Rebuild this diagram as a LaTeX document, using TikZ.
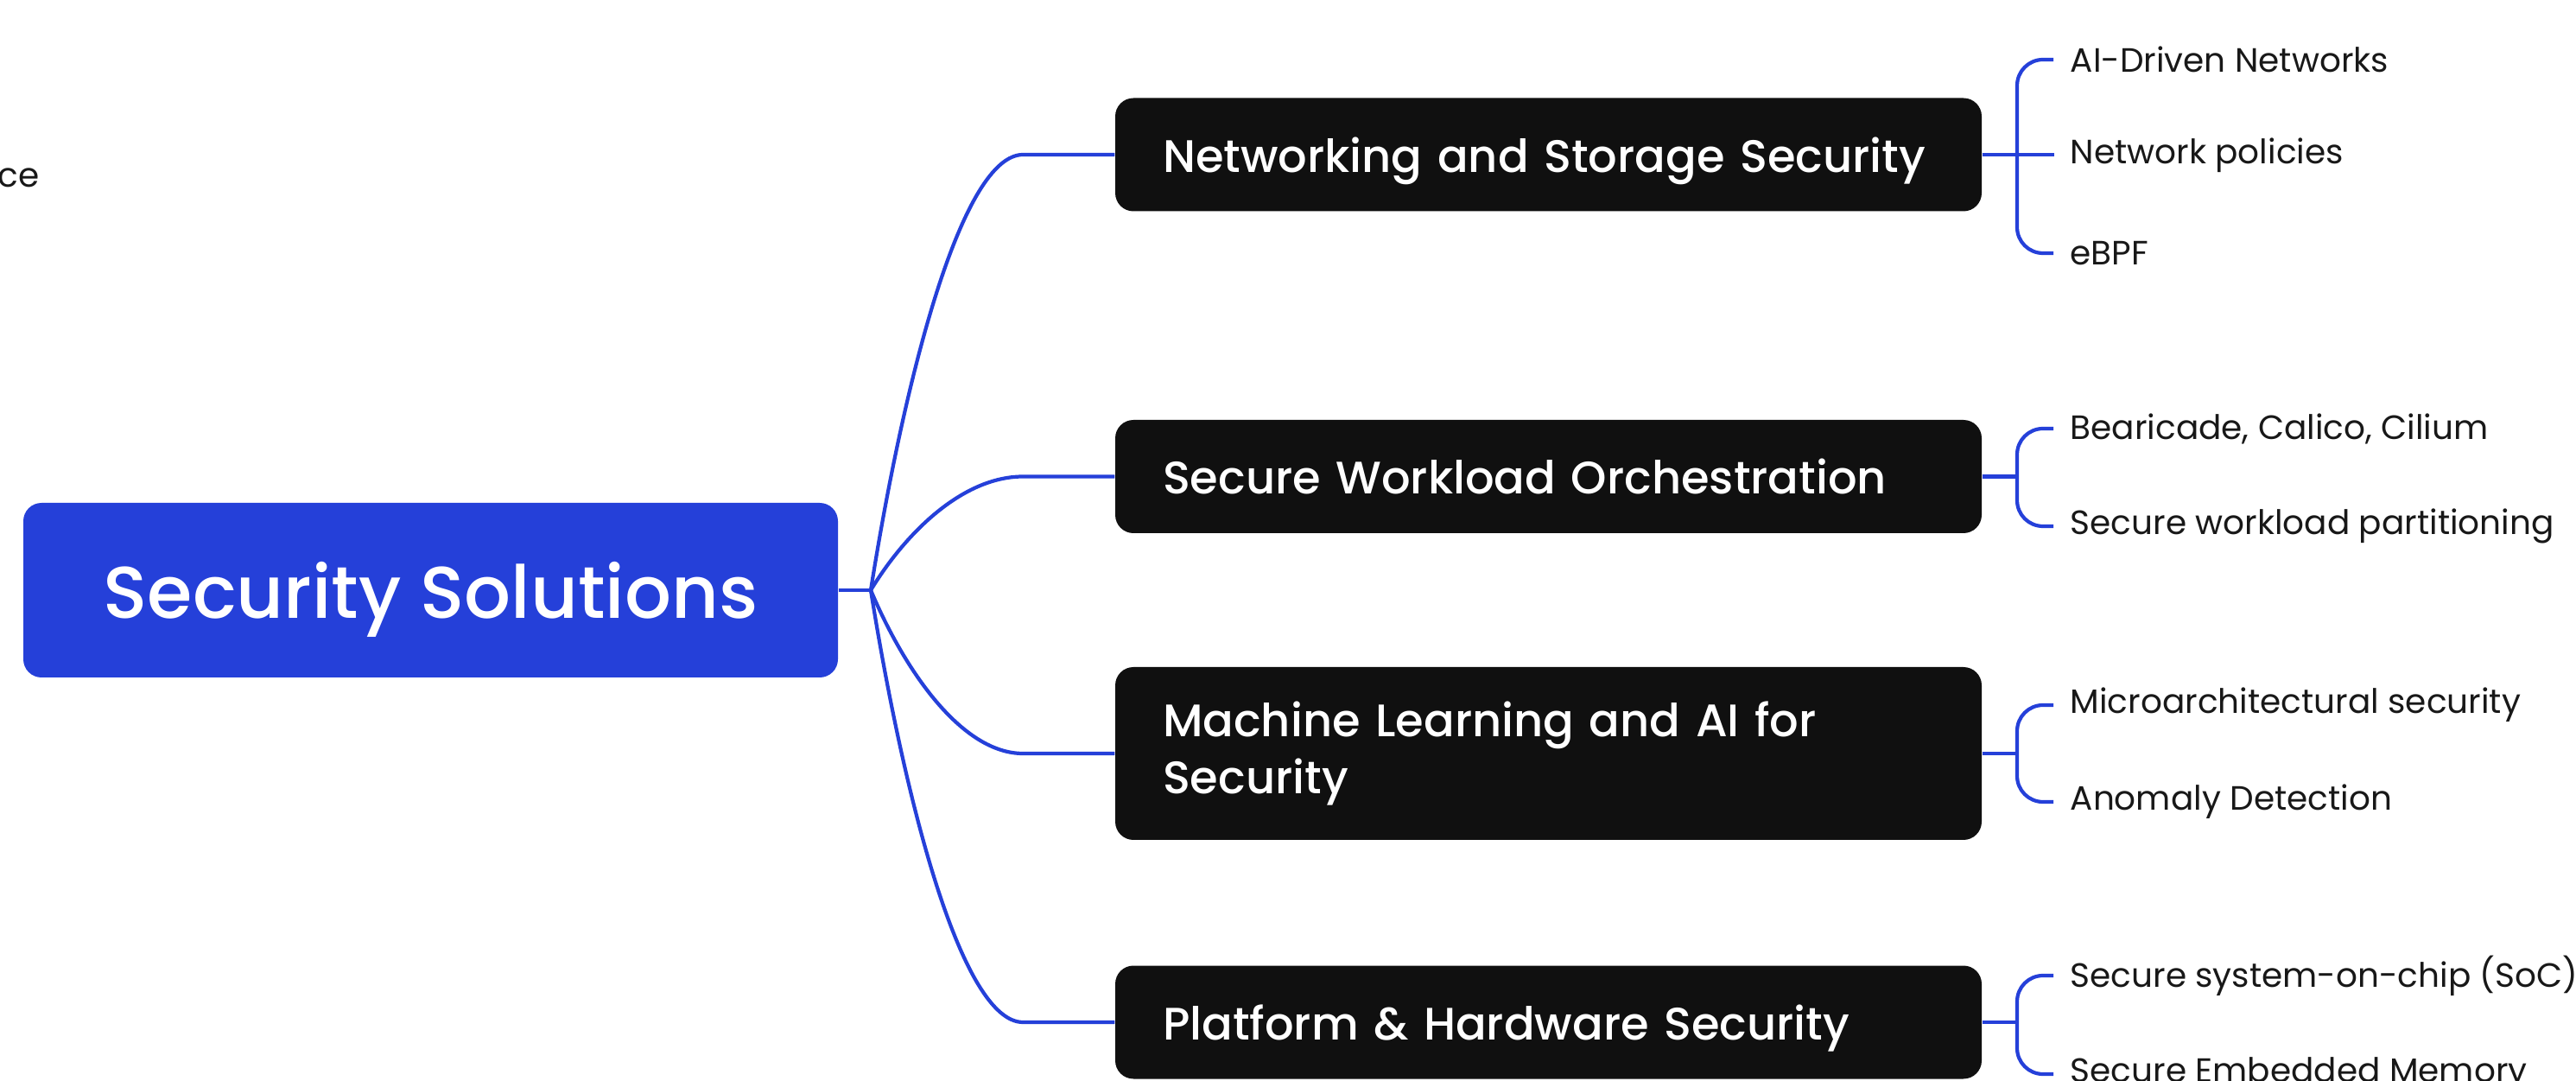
\documentclass[tikz,border=0pt]{standalone}
\usepackage{fontspec}
\setmainfont{Poppins}
\newfontfamily\topicfont{Poppins Medium}
\usetikzlibrary{positioning,calc}
\usepackage{xcolor}
\definecolor{mapblue}{RGB}{37,64,217}
\definecolor{topicblack}{RGB}{16,16,16}
\definecolor{leafgray}{RGB}{24,24,24}

\begin{document}
\begin{tikzpicture}[
    rootbox/.style={rectangle, rounded corners=6pt, fill=mapblue, text=white,
                    minimum width=9.43cm, minimum height=2.02cm, align=center,
                    text depth=0pt, font=\topicfont\fontsize{24.1}{28}\selectfont},
    topicbox/.style={rectangle, rounded corners=6pt, fill=topicblack, text=white,
                     text width=8.93cm, inner xsep=0.55cm, minimum height=1.31cm,
                     align=left, text depth=0pt, font=\topicfont\fontsize{15}{19}\selectfont},
    leaf/.style={inner sep=0pt, anchor=west, text=leafgray,
                 font=\fontsize{11.1}{13}\selectfont},
    branch/.style={draw=mapblue, line width=1.2pt},
    bracket/.style={branch, rounded corners=0.3cm}
]
\useasboundingbox (0,0) rectangle (29.82,-12.51);

% central topic and the fork point
\node[rootbox] (root) at (4.985,-6.83) {Security Solutions};
\coordinate (fork) at (10.08,-6.83);
\draw[branch] (root.east) -- (fork);

% main topics
\node[topicbox] (net) at (17.925,-1.79) {Networking and Storage Security};
\node[topicbox] (orch) at (17.925,-5.515) {Secure Workload Orchestration};
\node[topicbox, text depth=, minimum height=2.0cm] (ml) at (17.925,-8.72) {Machine Learning and AI for\\Security};
\node[topicbox] (hw) at (17.925,-11.83) {Platform \& Hardware Security};

% curved branches out of the fork
\draw[branch] (fork) .. controls +(0.4,2.52) and +(-0.7,0) .. ($(net.west)+(-1.06,0)$) -- (net.west);
\draw[branch] (fork) .. controls +(0.4,0.66) and +(-0.7,0) .. ($(orch.west)+(-1.06,0)$) -- (orch.west);
\draw[branch] (fork) .. controls +(0.4,-0.95) and +(-0.7,0) .. ($(ml.west)+(-1.06,0)$) -- (ml.west);
\draw[branch] (fork) .. controls +(0.4,-2.5) and +(-0.7,0) .. ($(hw.west)+(-1.06,0)$) -- (hw.west);

% subtopics
\node[leaf] (net1) at (23.96,-0.69) {AI-Driven Networks};
\node[leaf] (net2) at (23.96,-1.80) {Network policies};
\node[leaf] (net3) at (23.96,-2.93) {eBPF};
\node[leaf] (orch1) at (23.96,-4.96) {Bearicade, Calico, Cilium};
\node[leaf] (orch2) at (23.96,-6.09) {Secure workload partitioning};
\node[leaf] (ml1) at (23.96,-8.16) {Microarchitectural security};
\node[leaf] (ml2) at (23.96,-9.28) {Anomaly Detection};
\node[leaf] (hw1) at (23.96,-11.29) {Secure system-on-chip (SoC)};
\node[leaf] (hw2) at (23.96,-12.43) {Secure Embedded Memory};

% brackets
\draw[bracket] ($(net1.west)+(-0.19,0)$) -| ($(net3.west)+(-0.61,0)$) -- ($(net3.west)+(-0.19,0)$);
\draw[branch] (net.east) -- ++(0.83,0);
\draw[bracket] ($(orch1.west)+(-0.19,0)$) -| ($(orch2.west)+(-0.61,0)$) -- ($(orch2.west)+(-0.19,0)$);
\draw[branch] (orch.east) -- ++(0.41,0);
\draw[bracket] ($(ml1.west)+(-0.19,0)$) -| ($(ml2.west)+(-0.61,0)$) -- ($(ml2.west)+(-0.19,0)$);
\draw[branch] (ml.east) -- ++(0.41,0);
\draw[bracket] ($(hw1.west)+(-0.19,0)$) -| ($(hw2.west)+(-0.61,0)$) -- ($(hw2.west)+(-0.19,0)$);
\draw[branch] (hw.east) -- ++(0.41,0);

% stray label at the left edge
\node[leaf, anchor=east] (edge) at (0.46,-2.06) {ce};
\end{tikzpicture}
\end{document}
